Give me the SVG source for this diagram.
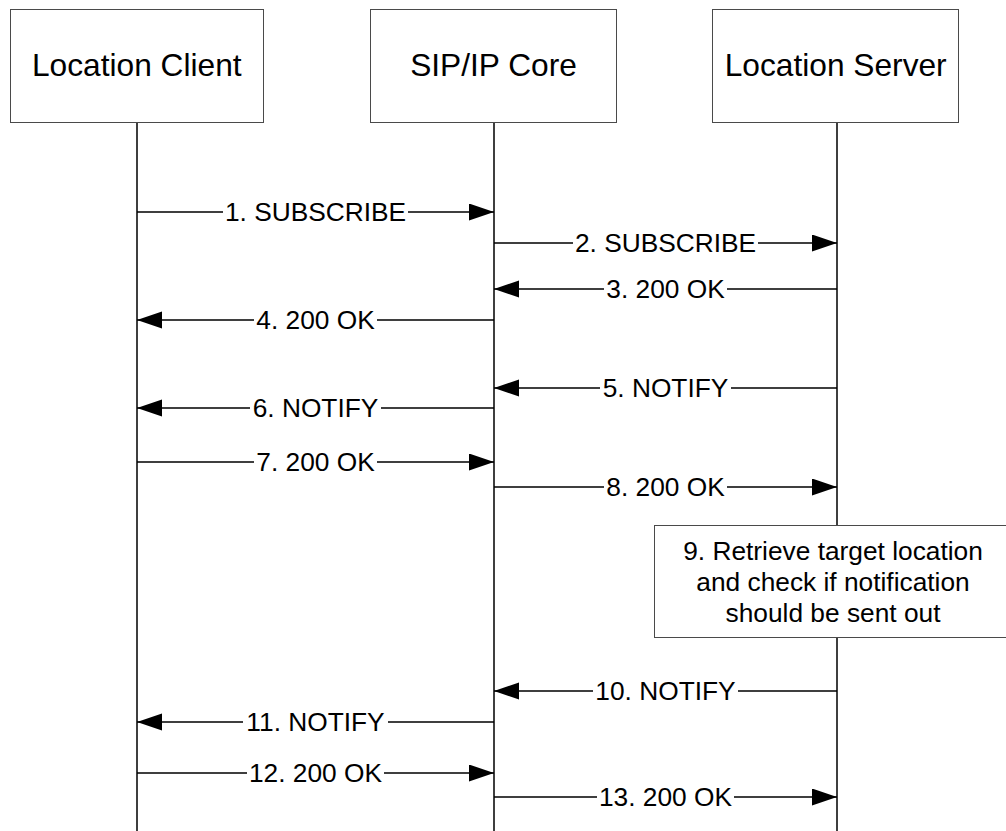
<svg xmlns="http://www.w3.org/2000/svg" width="1006" height="831" viewBox="0 0 1006 831">
<defs>
<style>
.box{fill:#fff;stroke:#4a4a4a;stroke-width:1}
.life{stroke:#000;stroke-width:1.5;fill:none}
.msg{stroke:#000;stroke-width:1.5;fill:none;marker-end:url(#ah)}
.hdr{font-family:"Liberation Sans",Arial,sans-serif;font-size:31.7px;fill:#000;text-anchor:middle}
.lbl{font-family:"Liberation Sans",Arial,sans-serif;font-size:26.3px;fill:#000;text-anchor:middle}
</style>
<marker id="ah" markerUnits="userSpaceOnUse" markerWidth="26" markerHeight="18" refX="25" refY="8.5" orient="auto">
<path d="M0,0 L25,8.5 L0,17 Z" fill="#000"/>
</marker>
</defs>
<rect width="1006" height="831" fill="#fff"/>
<g id="lifelines">
<path class="life" d="M137 122.5 V831 M494 122.5 V831 M837 122.5 V831"/>
</g>
<g id="node-client">
<rect class="box" x="10.5" y="9.5" width="253" height="113"/>
<text class="hdr" x="136.8" y="76">Location Client</text>
</g>
<g id="node-core">
<rect class="box" x="370.5" y="9.5" width="246" height="113"/>
<text class="hdr" x="493.5" y="76">SIP/IP Core</text>
</g>
<g id="node-server">
<rect class="box" x="712.5" y="9.5" width="246" height="113"/>
<text class="hdr" x="835.7" y="76">Location Server</text>
</g>
<g id="connectors">
<path class="msg" d="M137 212 H223 M408 212 H494"/>
<path class="msg" d="M494 243 H573 M758 243 H837"/>
<path class="msg" d="M837 289 H727 M604 289 H494"/>
<path class="msg" d="M494 320 H377 M254 320 H137"/>
<path class="msg" d="M837 388 H731 M600 388 H494"/>
<path class="msg" d="M494 408 H381 M250 408 H137"/>
<path class="msg" d="M137 462 H254 M377 462 H494"/>
<path class="msg" d="M494 487 H604 M727 487 H837"/>
<path class="msg" d="M837 691 H738 M593 691 H494"/>
<path class="msg" d="M494 722 H388 M243 722 H137"/>
<path class="msg" d="M137 773 H247 M384 773 H494"/>
<path class="msg" d="M494 797 H597 M734 797 H837"/>
</g>
<g id="labels">
<text class="lbl" x="315.5" y="221.4">1. SUBSCRIBE</text>
<text class="lbl" x="665.5" y="252.4">2. SUBSCRIBE</text>
<text class="lbl" x="665.5" y="298.4">3. 200 OK</text>
<text class="lbl" x="315.5" y="329.4">4. 200 OK</text>
<text class="lbl" x="665.5" y="397.4">5. NOTIFY</text>
<text class="lbl" x="315.5" y="417.4">6. NOTIFY</text>
<text class="lbl" x="315.5" y="471.4">7. 200 OK</text>
<text class="lbl" x="665.5" y="496.4">8. 200 OK</text>
<text class="lbl" x="665.5" y="700.4">10. NOTIFY</text>
<text class="lbl" x="315.5" y="731.4">11. NOTIFY</text>
<text class="lbl" x="315.5" y="782.4">12. 200 OK</text>
<text class="lbl" x="665.5" y="806.4">13. 200 OK</text>
</g>
<g id="node-step9">
<rect class="box" x="654.5" y="525.5" width="352" height="112"/>
<text class="lbl" x="833" y="560">9. Retrieve target location</text>
<text class="lbl" x="833" y="591">and check if notification</text>
<text class="lbl" x="833" y="622">should be sent out</text>
</g>
</svg>
